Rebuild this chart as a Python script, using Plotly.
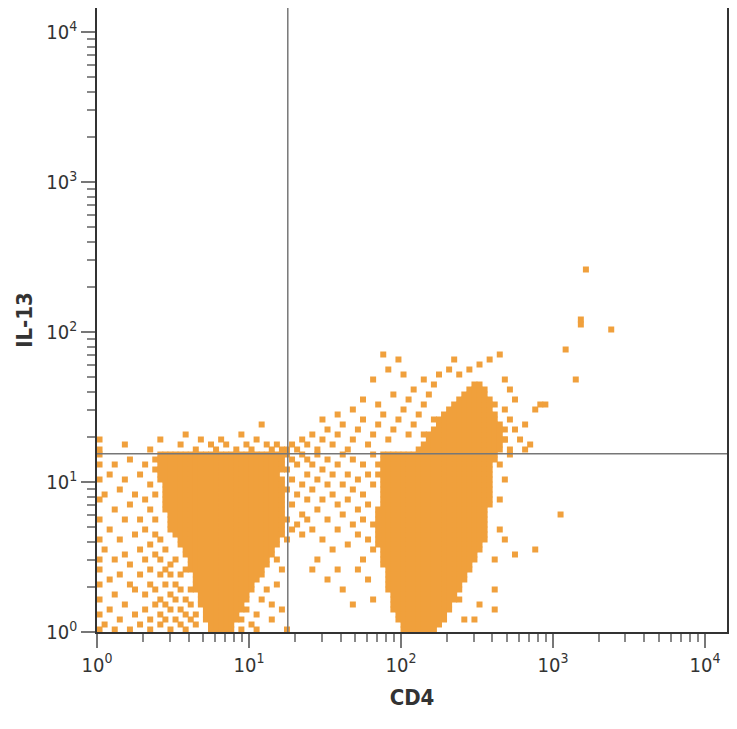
import plotly.graph_objects as go

BIN = 1/30  # decades per bin
# solid spans: (row, first_col, last_col) in bin units
solid_spans = (
    [(35, 12, 36), (34, 11, 36), (33, 12, 36), (32, 11, 36), (31, 12, 35), (30, 12, 36)]
    + [(r, 13, 36) for r in range(24, 30)] + [(r, 14, 36) for r in range(20, 24)]
    + [(19, 15, 36), (18, 16, 35), (17, 16, 35), (16, 17, 34), (15, 17, 34)]
    + [(14, 18, 33), (13, 18, 33), (12, 18, 32), (11, 19, 32), (10, 19, 31)]
    + [(9, 19, 30), (8, 19, 30), (7, 20, 29), (6, 20, 29), (5, 20, 28)]
    + [(4, 21, 28), (3, 21, 27), (2, 21, 27), (1, 22, 26), (0, 22, 26)]
    + [(35, 56, 78), (34, 56, 78), (33, 55, 77), (32, 56, 77), (31, 55, 77)]
    + [(r, 56, 77) for r in range(25, 31)] + [(r, 55, 76) for r in range(18, 25)]
    + [(17, 55, 75), (16, 56, 75), (15, 56, 74), (14, 56, 74), (13, 56, 73), (12, 57, 73)]
    + [(11, 57, 72), (10, 57, 72), (9, 57, 71), (8, 57, 71), (7, 58, 70), (6, 58, 70)]
    + [(5, 58, 69), (4, 58, 69), (3, 59, 68), (2, 59, 68), (1, 60, 67), (0, 60, 66)]
    + [(36, 63, 79), (37, 64, 79), (38, 65, 80), (39, 64, 79), (40, 66, 80), (41, 67, 79), (42, 66, 78)]
    + [(43, 68, 78), (44, 69, 77), (45, 70, 78), (46, 71, 77), (47, 72, 76), (48, 73, 76), (49, 74, 75)]
)
# scattered single events (col,row)
sparse_pts = [
    (0,0),(0,3),(0,6),(0,9),(0,12),(0,14),(0,18),(0,22),(0,26),(0,30),(0,33),(0,35),(1,1),(1,16),(1,27),
    (2,4),(2,10),(2,20),(2,31),(3,0),(3,7),(3,14),(3,24),(3,33),(4,2),(4,11),(4,18),(4,28),(5,5),(5,15),
    (5,22),(5,30),(6,0),(6,9),(6,13),(6,25),(6,34),(7,3),(7,8),(7,19),(7,27),(8,1),(8,11),(8,16),(8,22),
    (8,31),(9,4),(9,7),(9,14),(9,20),(9,26),(9,33),(10,0),(10,2),(10,9),(10,12),(10,17),(10,24),(10,29),
    (11,5),(11,8),(11,15),(11,19),(11,22),(11,27),(12,1),(12,3),(12,6),(12,11),(12,14),(12,18),
    (13,2),(13,5),(13,9),(13,12),(13,16),(14,0),(14,4),(14,7),(14,11),(14,13),(15,2),(15,6),(15,9),(15,14),
    (16,1),(16,4),(16,8),(16,11),(17,0),(17,3),(17,6),(17,12),(18,2),(18,5),(18,8),(19,1),(19,3),
    (28,0),(28,2),(29,4),(30,1),(31,3),(31,0),(32,6),(33,8),(34,2),(34,5),(35,9),(36,4),(36,12),(35,14),
    (0,36),(0,38),(5,37),(10,36),(12,38),(16,37),(17,39),(19,36),(20,38),(22,37),(23,36),(24,38),(25,37),
    (27,36),(28,39),(29,37),(30,36),(31,38),(33,37),(34,36),(35,37),(32,41),(36,36),
    (37,0),(37,18),(37,22),(37,28),(37,32),(37,35),(38,20),(38,25),(38,30),(38,34),(39,21),(39,27),(39,33),
    (40,19),(40,23),(40,29),(40,35),(41,22),(41,26),(41,31),(41,34),(42,20),(42,28),(42,33),(43,24),(43,30),
    (43,35),(44,18),(44,26),(44,32),(45,22),(45,29),(45,34),(46,27),(46,31),(47,20),(47,25),(47,33),
    (48,23),(48,29),(48,35),(49,17),(49,26),(49,31),(50,21),(50,28),(50,34),(51,19),(51,24),(51,30),
    (52,14),(52,22),(52,27),(52,33),(53,10),(53,18),(53,25),(53,31),(54,6),(54,16),(54,21),(54,29),(54,35),
    (45,10),(43,14),(48,8),(50,5),(51,12),(46,16),(42,12),(47,12),
    (78,4),(78,8),(78,14),(79,20),(79,26),(79,33),(80,18),(80,30),(81,35),(74,2),(75,5),(72,2),(71,6),
    (37,36),(38,37),(39,36),(40,38),(41,37),(42,39),(43,36),(44,38),(45,40),(46,37),(47,39),(48,41),
    (49,36),(50,38),(51,40),(52,42),(53,37),(54,39),(55,41),(56,43),(57,38),(58,40),(59,42),(60,44),
    (61,39),(62,41),(63,43),(61,46),(58,47),(55,45),(52,46),(50,44),(47,43),(44,42),(62,48),(64,45),
    (65,47),(66,49),(67,51),(64,50),(60,51),(57,52),(59,54),(54,50),(56,55),(69,52),(70,54),(71,51),
    (73,52),(75,53),(77,54),(79,55),(80,50),(81,48),(82,46),(80,44),(81,42),(82,40),(83,38),(84,41),
    (85,37),(86,44),(87,45),(88,45),(84,36),(80,38),(81,36),(92,56),
    (96,72),(95,62),(95,61),(101,60),(94,50),(91,23),(86,16),(82,15),
]

xs, ys = [], []
for r, c0, c1 in solid_spans:
    for c in range(c0, c1 + 1):
        xs.append(10 ** ((c + 0.5) * BIN)); ys.append(10 ** ((r + 0.5) * BIN))
for c, r in sparse_pts:
    xs.append(10 ** ((c + 0.5) * BIN)); ys.append(10 ** ((r + 0.5) * BIN))

gate_x = 18.0
gate_y = 15.4
tickvals = [1, 10, 100, 1000, 10000]
ticktext = ["10<sup>0</sup>", "10<sup>1</sup>", "10<sup>2</sup>", "10<sup>3</sup>", "10<sup>4</sup>"]

fig = go.Figure(go.Scatter(x=xs, y=ys, mode="markers", cliponaxis=True,
    marker=dict(symbol="square", size=6, color="#f0a03c", line=dict(width=0))))
fig.add_shape(type="line", x0=gate_x, x1=gate_x, y0=0, y1=1, yref="paper", line=dict(color="#777", width=1.5))
fig.add_shape(type="line", y0=gate_y, y1=gate_y, x0=0, x1=1, xref="paper", line=dict(color="#777", width=1.5))
ax = dict(type="log", tickvals=tickvals, ticktext=ticktext, showgrid=False, zeroline=False,
          ticks="outside", ticklen=14, tickcolor="#777", tickwidth=1.5, showline=True, linecolor="#333",
          linewidth=1.5, mirror=True, automargin=False,
          minor=dict(dtick="D1", ticks="outside", ticklen=8, tickcolor="#888", tickwidth=1.5, showgrid=False),
          tickfont=dict(size=20, color="#333"))
fig.update_layout(
    width=729, height=721, plot_bgcolor="white", paper_bgcolor="white",
    margin=dict(l=89, r=10, t=0, b=97, autoexpand=False), showlegend=False,
    font=dict(family="DejaVu Sans Condensed, DejaVu Sans", color="#333"),
    xaxis=dict(ax, range=[0, 4.145], title=dict(text="<b>CD4</b>", font=dict(size=22), standoff=14)),
    yaxis=dict(ax, range=[0, 4.16], title=dict(text="<b>IL-13</b>", font=dict(size=22), standoff=8)),
)
fig.write_html("out.html")
